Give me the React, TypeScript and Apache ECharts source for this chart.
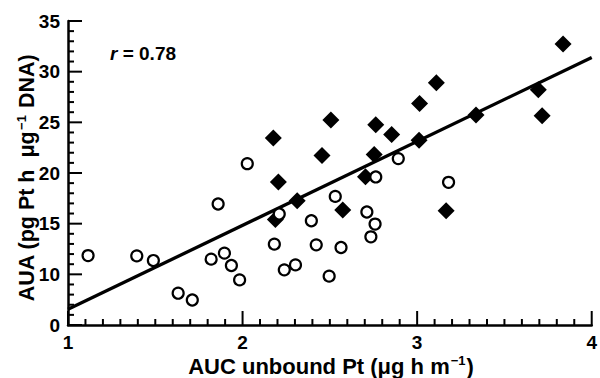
import React, { useEffect, useRef } from "react";
import * as echarts from "echarts";

// Open circles: [AUC unbound Pt, AUA]
const openCircles: [number, number][] = [
  [1.115, 11.85], [1.394, 11.82], [1.489, 11.36], [1.631, 8.14], [1.712, 7.47],
  [1.860, 16.94], [1.820, 11.5], [1.896, 12.09], [1.936, 10.87], [1.983, 9.45],
  [2.027, 20.92], [2.210, 15.95], [2.182, 12.98], [2.239, 10.44], [2.303, 10.93],
  [2.394, 15.29], [2.422, 12.91], [2.531, 17.69], [2.564, 12.65], [2.496, 9.82],
  [2.712, 16.15], [2.759, 14.96], [2.735, 13.7], [2.892, 21.42], [2.763, 19.61],
  [3.180, 19.08],
];

// Filled diamonds: [AUC unbound Pt, AUA]
const filledDiamonds: [number, number][] = [
  [2.176, 23.45], [2.205, 19.1], [2.188, 15.42], [2.313, 17.27], [2.455, 21.72],
  [2.506, 25.23], [2.574, 16.35], [2.704, 19.64], [2.754, 21.82], [2.763, 24.75],
  [2.854, 23.79], [3.014, 26.86], [3.011, 23.23], [3.110, 28.91], [3.166, 16.28],
  [3.337, 25.72], [3.694, 28.21], [3.716, 25.64], [3.836, 32.73],
];

// Regression line end points
const fitLine: [number, number][] = [
  [1, 6.55],
  [4, 31.4],
];

// Axis ranges
const xMin = 1;
const xMax = 4;
const xInterval = 1;
const yMin = 5;
const yMax = 35;
const yInterval = 5;
// The bottom of the y axis is labelled "0" in the original (axis break)
const yBottomLabel = "0";

// Tick positions (inward ticks, as in the original)
const xMajorTicks = [1, 2, 3, 4];
const xMinorTicks = [
  1.1, 1.2, 1.3, 1.4, 1.5, 1.6, 1.7, 1.8, 1.9,
  2.1, 2.2, 2.3, 2.4, 2.5, 2.6, 2.7, 2.8, 2.9,
  3.1, 3.2, 3.3, 3.4, 3.5, 3.6, 3.7, 3.8, 3.9,
];
const yMajorTicks = [5, 10, 15, 20, 25, 30, 35];
const yMinorTicks = [
  6, 7, 8, 9, 11, 12, 13, 14, 16, 17, 18, 19, 21, 22, 23, 24,
  26, 27, 28, 29, 31, 32, 33, 34,
];

const xTitle = "{n|AUC unbound Pt (μg h m}{s|−1}{n|)}";
const yTitle = "{n|AUA (pg Pt h  μg}{s|−1}{n| DNA)}";
const correlationText = "0.78";

const FONT = '"Liberation Sans", Arial, Helvetica, sans-serif';

function tickSeries(values: number[], horizontalAxis: boolean, len: number) {
  return {
    type: "custom",
    xAxisIndex: 0,
    yAxisIndex: 0,
    clip: false,
    silent: true,
    z: 6,
    encode: { x: 0, y: 1 },
    data: values.map((v) => (horizontalAxis ? [v, yMin] : [xMin, v])),
    renderItem: (_params: any, api: any) => {
      const p = api.coord([api.value(0), api.value(1)]);
      const shape = horizontalAxis
        ? { x1: p[0], y1: p[1], x2: p[0], y2: p[1] - len }
        : { x1: p[0], y1: p[1], x2: p[0] + len, y2: p[1] };
      return {
        type: "line",
        shape,
        style: { stroke: "#000", lineWidth: 2 },
      };
    },
  };
}

export default function App() {
  const ref = useRef<HTMLDivElement>(null);

  useEffect(() => {
    if (!ref.current) return;
    const chart = echarts.init(ref.current, undefined, { renderer: "svg" });
    const titleRich = (size: number) => ({
      n: { fontFamily: FONT, fontSize: size, fontWeight: "bold", fill: "#000", lineHeight: 24 },
      s: { fontFamily: FONT, fontSize: 13, fontWeight: "bold", fill: "#000", verticalAlign: "top", lineHeight: 24, padding: [0, 1, 12, 1] },
    });
    const labelStyle = () => ({
      fontFamily: FONT,
      fontSize: 19,
      fontWeight: "bold",
      color: "#000",
    });
    const option: any = {
      animation: false,
      grid: { left: 68, right: 4, top: 21, bottom: 53 },
      xAxis: {
        type: "value",
        min: xMin,
        max: xMax,
        interval: xInterval,
        axisLine: { show: true, lineStyle: { color: "#000", width: 2.5 } },
        axisTick: { show: false },
        splitLine: { show: false },
        axisLabel: { margin: 8, ...labelStyle() },
      },
      yAxis: {
        type: "value",
        min: yMin,
        max: yMax,
        interval: yInterval,
        axisLine: { show: true, lineStyle: { color: "#000", width: 2.5 } },
        axisTick: { show: false },
        splitLine: { show: false },
        axisLabel: {
          margin: 8,
          ...labelStyle(),
          formatter: (v: number) => (v === yMin ? yBottomLabel : String(v)),
        },
      },
      graphic: [
        {
          type: "text",
          x: 331,
          y: 366,
          style: { text: xTitle, align: "center", verticalAlign: "middle", rich: titleRich(22) },
        },
        {
          type: "text",
          x: 27,
          y: 178,
          rotation: Math.PI / 2,
          style: { text: yTitle, align: "center", verticalAlign: "middle", rich: titleRich(21.5) },
        },
        {
          type: "text",
          left: 110,
          top: 44,
          style: {
            text: "{i|r}{n| = " + correlationText + "}",
            rich: {
              i: { fontFamily: FONT, fontSize: 19, fontWeight: "bold", fontStyle: "italic", fill: "#000" },
              n: { fontFamily: FONT, fontSize: 19, fontWeight: "bold", fill: "#000" },
            },
          },
        },
      ],
      series: [
        tickSeries(xMajorTicks, true, 14),
        tickSeries(xMinorTicks, true, 6),
        tickSeries(yMajorTicks, false, 14),
        tickSeries(yMinorTicks, false, 6),
        {
          type: "line",
          data: fitLine,
          symbol: "none",
          lineStyle: { color: "#000", width: 3.3 },
          z: 2,
          silent: true,
        },
        {
          type: "scatter",
          data: filledDiamonds,
          symbol: "diamond",
          symbolSize: [17, 17],
          itemStyle: { color: "#000", opacity: 1 },
          z: 3,
        },
        {
          type: "scatter",
          data: openCircles,
          symbol: "circle",
          symbolSize: 11,
          itemStyle: { color: "#fff", borderColor: "#000", borderWidth: 2.2, opacity: 1 },
          z: 4,
        },
      ],
    };
    chart.setOption(option);
    return () => chart.dispose();
  }, []);

  return (
    <div
      ref={ref}
      style={{ position: "fixed", left: 0, top: 0, width: 600, height: 378, background: "#fff" }}
    />
  );
}
